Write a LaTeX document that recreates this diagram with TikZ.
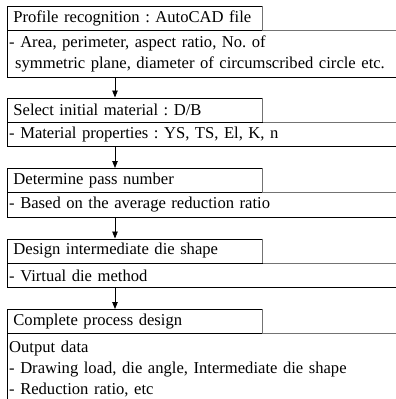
\documentclass[tikz,border=0pt]{standalone}
\usepackage{fontspec}
\setmainfont{Liberation Serif}
\usetikzlibrary{arrows.meta}
\frenchspacing
\begin{document}
\begin{tikzpicture}[x=1pt,y=1pt,
  hdr/.style={draw=black, line width=0.8pt, rectangle, anchor=north west,
    text width=243pt, inner xsep=6pt, inner ysep=0pt, minimum height=24pt,
    align=left, font=\fontsize{16.6}{21}\selectfont\frenchspacing},
  det/.style={draw=none, rectangle, anchor=north west,
    text width=399pt, inner xsep=2pt, inner ysep=0pt,
    align=left, font=\fontsize{16.6}{21}\selectfont\frenchspacing},
  edge/.style={draw=black, line width=0.8pt},
  soft/.style={draw=black!55, line width=1pt},
  arr/.style={draw=black, line width=0.8pt, -{Triangle[width=5.5pt,length=7pt]}}
]
\useasboundingbox (0,0) rectangle (396,-399);
\clip (0,0) rectangle (396,-399);
\coordinate (ax) at (115,0);

% Box 1
\node[hdr] (h1) at (7,-6) {Profile recognition : AutoCAD file};
\node[det, minimum height=46pt] (d1) at (h1.south west)
  {- Area, perimeter, aspect ratio, No. of\\\hspace*{6pt}symmetric plane, diameter of circumscribed circle etc.};
% Box 2
\node[hdr] (h2) at (7,-97.5) {Select initial material : D/B};
\node[det, minimum height=24pt] (d2) at (h2.south west) {- Material properties : YS, TS, El, K, n};
% Box 3
\node[hdr] (h3) at (7,-168) {Determine pass number};
\node[det, minimum height=24pt] (d3) at (h3.south west) {- Based on the average reduction ratio};
% Box 4
\node[hdr] (h4) at (7,-238.5) {Design intermediate die shape};
\node[det, minimum height=24pt] (d4) at (h4.south west) {- Virtual die method};
% Box 5
\node[hdr] (h5) at (7,-309) {Complete process design};
\node[det, minimum height=70pt] (d5) at (h5.south west)
  {Output data\\- Drawing load, die angle, Intermediate die shape\\- Reduction ratio, etc};

% detail box outlines
\foreach \i in {1,2,3,4,5}{
  \draw[edge] (d\i.north west) -- (d\i.south west) -- (d\i.south east);
  \draw[soft] (h\i.south east) -- (d\i.north east);
  \draw[soft] (h\i.north east) -- (h\i.south east);
}

% arrows
\draw[arr] (d1.south west -| ax) -- (h2.north west -| ax);
\draw[arr] (d2.south west -| ax) -- (h3.north west -| ax);
\draw[arr] (d3.south west -| ax) -- (h4.north west -| ax);
\draw[arr] (d4.south west -| ax) -- (h5.north west -| ax);
\end{tikzpicture}
\end{document}
